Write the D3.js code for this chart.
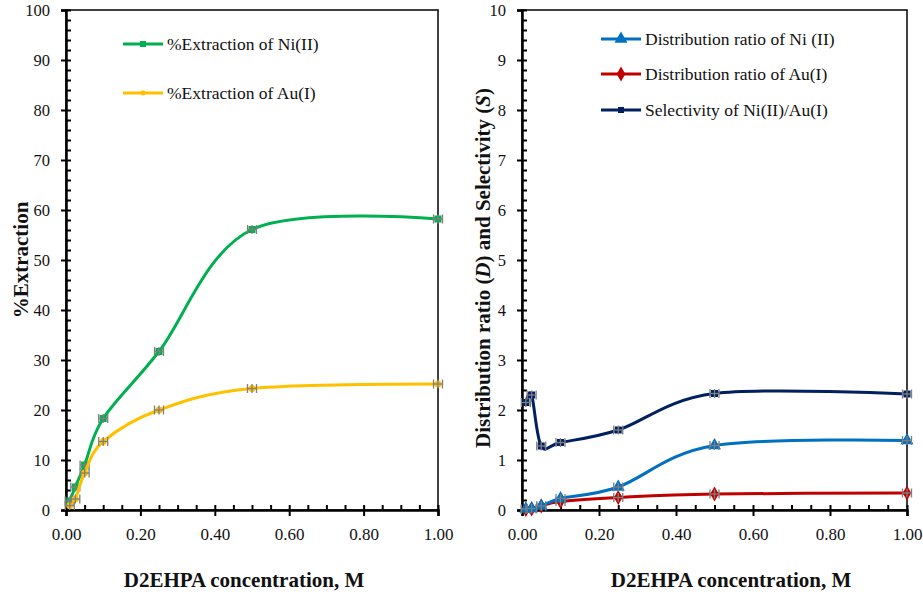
<!DOCTYPE html>
<html><head><meta charset="utf-8">
<script src="https://cdn.jsdelivr.net/npm/d3@7"></script>
<style>
body{margin:0;background:#fff;}
</style></head><body>
<svg id="c" width="923" height="594"></svg>
<script>
// ---- data ----
const conc = [0.01, 0.025, 0.05, 0.1, 0.25, 0.5, 1.0];
const extNi = [1.8, 4.6, 9.0, 18.3, 31.7, 56.1, 58.2];
const extAu = [0.9, 2.2, 7.4, 13.7, 20.0, 24.3, 25.2];
const dNi   = [0.02, 0.03, 0.08, 0.23, 0.46, 1.29, 1.39];
const dAu   = [0.01, 0.02, 0.08, 0.17, 0.25, 0.32, 0.34];
const selec = [2.15, 2.30, 1.28, 1.35, 1.60, 2.33, 2.32];
const xTicks = [0, 0.2, 0.4, 0.6, 0.8, 1.0];
const xMinor = [0.05,0.1,0.15,0.25,0.3,0.35,0.45,0.5,0.55,0.65,0.7,0.75,0.85,0.9,0.95];
const yTicksL = [0,10,20,30,40,50,60,70,80,90,100];
const yTicksR = [0,1,2,3,4,5,6,7,8,9,10];
const legL = ["%Extraction of Ni(II)", "%Extraction of Au(I)"];
const legR = ["Distribution ratio of Ni (II)", "Distribution ratio of Au(I)", "Selectivity of Ni(II)/Au(I)"];

const FONT = "Liberation Serif";
const svg = d3.select("#c").attr("font-family", FONT);
const colors = {green:"#00b050", yellow:"#ffc000", blue:"#0070c0", red:"#c00000", navy:"#002060"};

function panel(x0, x1, yMax, yTicks, yStep) {
  const x = d3.scaleLinear().domain([0,1]).range([x0,x1]);
  const y = d3.scaleLinear().domain([0,yMax]).range([510,10]);
  const yMinor = d3.range(0, yMax + 1e-9, yStep).filter(v => !yTicks.some(t => Math.abs(t-v)<1e-9));
  svg.append("rect").attr("x",x0).attr("y",10).attr("width",x1-x0).attr("height",500)
    .attr("fill","none").attr("stroke","#000").attr("stroke-width",1.5);
  const gy = svg.append("g").attr("transform",`translate(${x0},0)`)
    .call(d3.axisLeft(y).tickValues(yTicks).tickSize(5).tickPadding(11).tickFormat(d3.format("d")));
  gy.attr("font-family", FONT);
  gy.select(".domain").attr("stroke-width",2.5);
  gy.selectAll(".tick line").attr("x1",5).attr("x2",-5).attr("stroke-width",2);
  gy.selectAll("text").attr("font-size",16.5).attr("fill","#111");
  const gym = svg.append("g").attr("transform",`translate(${x0},0)`)
    .call(d3.axisLeft(y).tickValues(yMinor).tickSize(-5).tickFormat(""));
  gym.select(".domain").remove();
  gym.selectAll(".tick line").attr("stroke-width",2);
  const gx = svg.append("g").attr("transform","translate(0,510)")
    .call(d3.axisBottom(x).tickValues(xTicks).tickSize(6).tickPadding(12).tickFormat(d3.format(".2f")));
  gx.attr("font-family", FONT);
  gx.select(".domain").attr("stroke-width",2.5);
  gx.selectAll(".tick line").attr("y1",-5).attr("y2",6).attr("stroke-width",2);
  gx.selectAll("text").attr("font-size",17).attr("fill","#111");
  const gxm = svg.append("g").attr("transform","translate(0,510)")
    .call(d3.axisBottom(x).tickValues(xMinor).tickSize(-5).tickFormat(""));
  gxm.select(".domain").remove();
  gxm.selectAll(".tick line").attr("stroke-width",2);
  return {x,y};
}

function marker(g, shape, cx, cy, color, s) {
  if (shape==="square") g.append("rect").attr("x",cx-s/2).attr("y",cy-s/2).attr("width",s).attr("height",s).attr("fill",color);
  else if (shape==="circle") g.append("circle").attr("cx",cx).attr("cy",cy).attr("r",s/2).attr("fill",color);
  else if (shape==="triangle") g.append("path").attr("d",d3.symbol(d3.symbolTriangle, s*s*0.9)()).attr("transform",`translate(${cx},${cy})`).attr("fill",color);
  else if (shape==="diamond") g.append("path").attr("d",d3.symbol(d3.symbolDiamond, s*s*0.8)()).attr("transform",`translate(${cx},${cy})`).attr("fill",color);
}

function series(p, xs, ys, color, shape, ms) {
  const line = d3.line().x((d,i)=>p.x(xs[i])).y(d=>p.y(d)).curve(d3.curveCardinal.tension(0));
  svg.append("path").datum(ys).attr("d",line).attr("fill","none").attr("stroke",color).attr("stroke-width",3);
  const g = svg.append("g");
  ys.forEach((v,i)=>{
    const cx = p.x(xs[i]), cy = p.y(v), e = 4.5;
    marker(g, shape, cx, cy, color, ms);
    const eb = g.append("g").attr("stroke","#7f7f7f").attr("stroke-width",1.3);
    eb.append("line").attr("x1",cx).attr("x2",cx).attr("y1",cy-e).attr("y2",cy+e);
    eb.append("line").attr("x1",cx-e).attr("x2",cx-e).attr("y1",cy-e).attr("y2",cy+e);
    eb.append("line").attr("x1",cx+e).attr("x2",cx+e).attr("y1",cy-e).attr("y2",cy+e);
    eb.append("line").attr("x1",cx-e).attr("x2",cx+e).attr("y1",cy).attr("y2",cy);
  });
}

function legendRow(xl, yl, color, shape, ms, label) {
  svg.append("line").attr("x1",xl).attr("x2",xl+40).attr("y1",yl).attr("y2",yl).attr("stroke",color).attr("stroke-width",3);
  marker(svg, shape, xl+20, yl, color, ms);
  svg.append("text").attr("x",xl+44).attr("y",yl+6).attr("font-size",17.5).attr("fill","#111").text(label);
}

// Left panel
const L = panel(66, 438, 100, yTicksL, 2);
series(L, conc, extNi, colors.green, "square", 7);
series(L, conc, extAu, colors.yellow, "circle", 7);
legendRow(123, 44, colors.green, "square", 6, legL[0]);
legendRow(123, 93, colors.yellow, "circle", 5, legL[1]);
svg.append("text").attr("x",244).attr("y",587).attr("text-anchor","middle")
  .attr("font-size",21).attr("font-weight","bold").attr("fill","#111").text("D2EHPA concentration, M");
svg.append("text").attr("transform","translate(28,260) rotate(-90)").attr("text-anchor","middle")
  .attr("font-size",21).attr("font-weight","bold").attr("fill","#111").text("%Extraction");

// Right panel
const R = panel(522, 907, 10, yTicksR, 0.2);
series(R, conc, dAu, colors.red, "diamond", 9);
series(R, conc, dNi, colors.blue, "triangle", 9);
series(R, conc, selec, colors.navy, "square", 7);
legendRow(601, 39, colors.blue, "triangle", 9, legR[0]);
legendRow(601, 74, colors.red, "diamond", 9, legR[1]);
legendRow(601, 110, colors.navy, "square", 6, legR[2]);
svg.append("text").attr("x",731).attr("y",587).attr("text-anchor","middle")
  .attr("font-size",21).attr("font-weight","bold").attr("fill","#111").text("D2EHPA concentration, M");
const yt = svg.append("text").attr("transform","translate(490,268) rotate(-90)").attr("text-anchor","middle")
  .attr("font-size",21).attr("font-weight","bold").attr("fill","#111");
yt.append("tspan").text("Distribution ratio (");
yt.append("tspan").attr("font-style","italic").text("D");
yt.append("tspan").text(") and Selectivity (");
yt.append("tspan").attr("font-style","italic").text("S");
yt.append("tspan").text(")");
</script>
</body></html>
